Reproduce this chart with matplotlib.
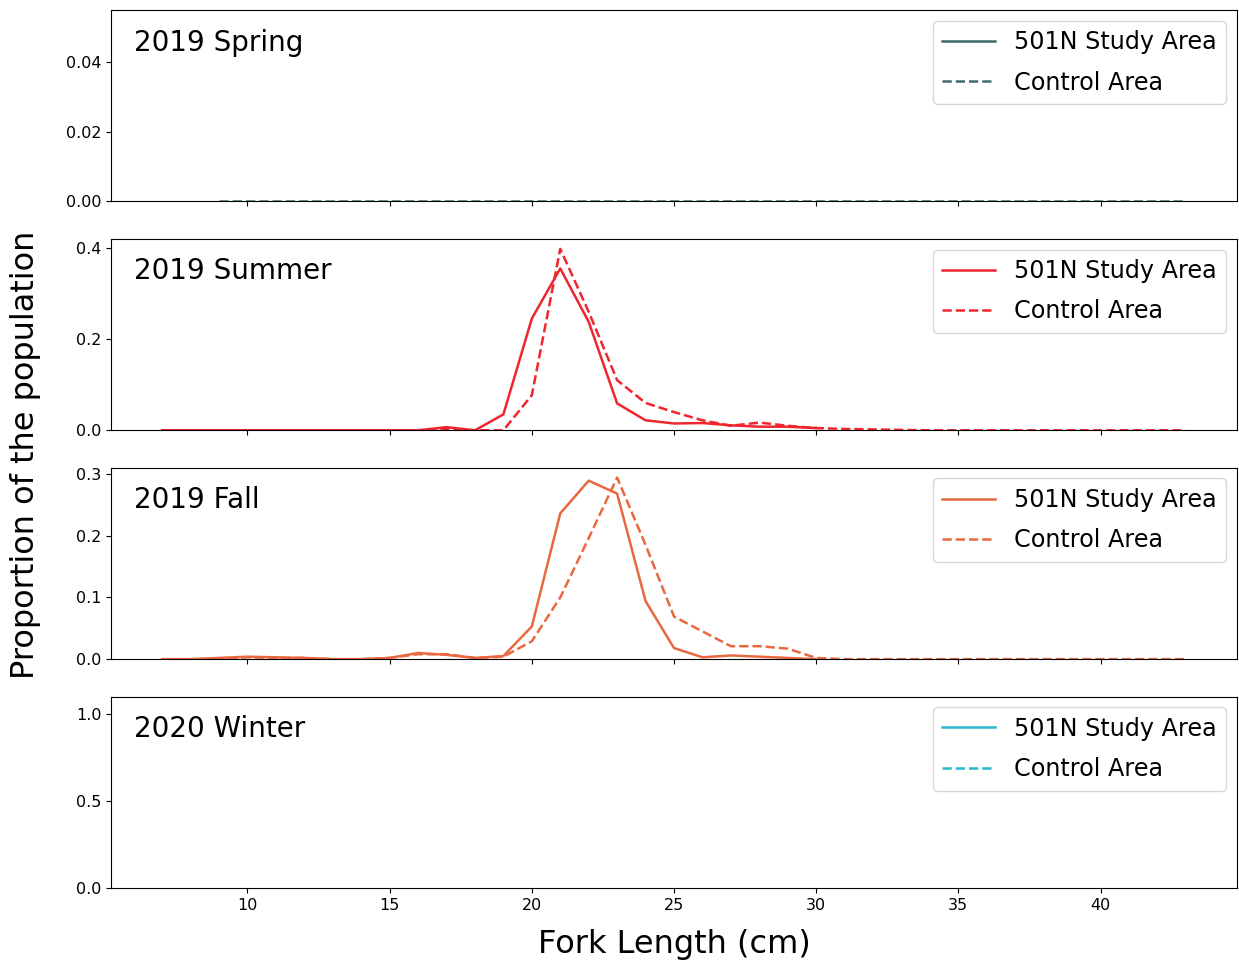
import matplotlib
matplotlib.use("Agg")
import matplotlib.pyplot as plt
import numpy as np

# fork length bins (cm)
lengths = list(range(7, 44))
spring_lengths = list(range(9, 44))
study_lengths = list(range(7, 31))

# 2019 Spring: only control area, all zero
spring_study = []
spring_control = [0.0] * len(spring_lengths)

# 2019 Summer
summer_study = [0.0, 0.0, 0.0, 0.0, 0.0, 0.0, 0.0, 0.0, 0.0, 0.0, 0.007, 0.0,
                0.035, 0.245, 0.355, 0.238, 0.059, 0.022, 0.015, 0.016,
                0.011, 0.008, 0.008, 0.005]
summer_control = [0.0, 0.0, 0.0, 0.0, 0.0, 0.0, 0.0, 0.0, 0.0, 0.0, 0.003, 0.0,
                  0.0, 0.077, 0.398, 0.26, 0.11, 0.06, 0.04, 0.022,
                  0.01, 0.017, 0.01, 0.005, 0.003, 0.002, 0.001, 0.0,
                  0.0, 0.0, 0.0, 0.0, 0.0, 0.0, 0.0, 0.0, 0.0]

# 2019 Fall
fall_study = [0.0, 0.0, 0.002, 0.004, 0.003, 0.002, 0.0, 0.0, 0.002, 0.01,
              0.007, 0.002, 0.005, 0.053, 0.236, 0.289, 0.268, 0.094,
              0.018, 0.003, 0.006, 0.004, 0.002, 0.0]
fall_control = [0.0, 0.0, 0.0, 0.003, 0.002, 0.002, 0.0, 0.0, 0.002, 0.008,
                0.008, 0.002, 0.004, 0.029, 0.1, 0.196, 0.294, 0.185,
                0.069, 0.045, 0.021, 0.021, 0.017, 0.002, 0.0, 0.0, 0.0,
                0.0, 0.0, 0.0, 0.0, 0.0, 0.0, 0.0, 0.0, 0.0, 0.0]

seasons = ["2019 Spring", "2019 Summer", "2019 Fall", "2020 Winter"]
colors = ["#3d6b6e", "#f0262e", "#e8683f", "#2bb5d0"]
ylims = [(0, 0.055), (0, 0.42), (0, 0.31), (0, 1.1)]

study_data = [(spring_lengths[:0], spring_study),
              (study_lengths, summer_study),
              (study_lengths, fall_study),
              ([], [])]
control_data = [(spring_lengths, spring_control),
                (lengths, summer_control),
                (lengths, fall_control),
                ([], [])]

fig, axes = plt.subplots(4, 1, sharex=True, figsize=(12.39, 9.65), dpi=100)
fig.subplots_adjust(left=111 / 1239, right=1237 / 1239,
                    top=1 - 10 / 965, bottom=1 - 888 / 965, hspace=0.195)

for i, ax in enumerate(axes):
    sx, sy = study_data[i]
    cx, cy = control_data[i]
    ax.plot(sx, sy, color=colors[i], linewidth=1.8, label="501N Study Area")
    ax.plot(cx, cy, color=colors[i], linewidth=1.8, linestyle="--",
            label="Control Area")
    ax.set_ylim(*ylims[i])
    ax.text(0.02, 0.83, seasons[i], transform=ax.transAxes, fontsize=20,
            ha="left", va="center")
    ax.legend(loc="upper right", fontsize=17.2, handlelength=2.2,
              borderaxespad=0.45, labelspacing=0.68)
    ax.tick_params(labelsize=11.5)

axes[0].set_yticks([0.0, 0.02, 0.04])
axes[1].set_yticks([0.0, 0.2, 0.4])
axes[2].set_yticks([0.0, 0.1, 0.2, 0.3])
axes[3].set_yticks([0.0, 0.5, 1.0])
axes[3].set_xlim(5.2, 44.8)
axes[3].set_xticks([10, 15, 20, 25, 30, 35, 40])

axes[3].set_xlabel("Fork Length (cm)", fontsize=23, labelpad=12)
fig.text(0.008, 1 - 455 / 965, "Proportion of the population", rotation=90,
         fontsize=23, ha="left", va="center")

plt.savefig("out.png", dpi=100)
